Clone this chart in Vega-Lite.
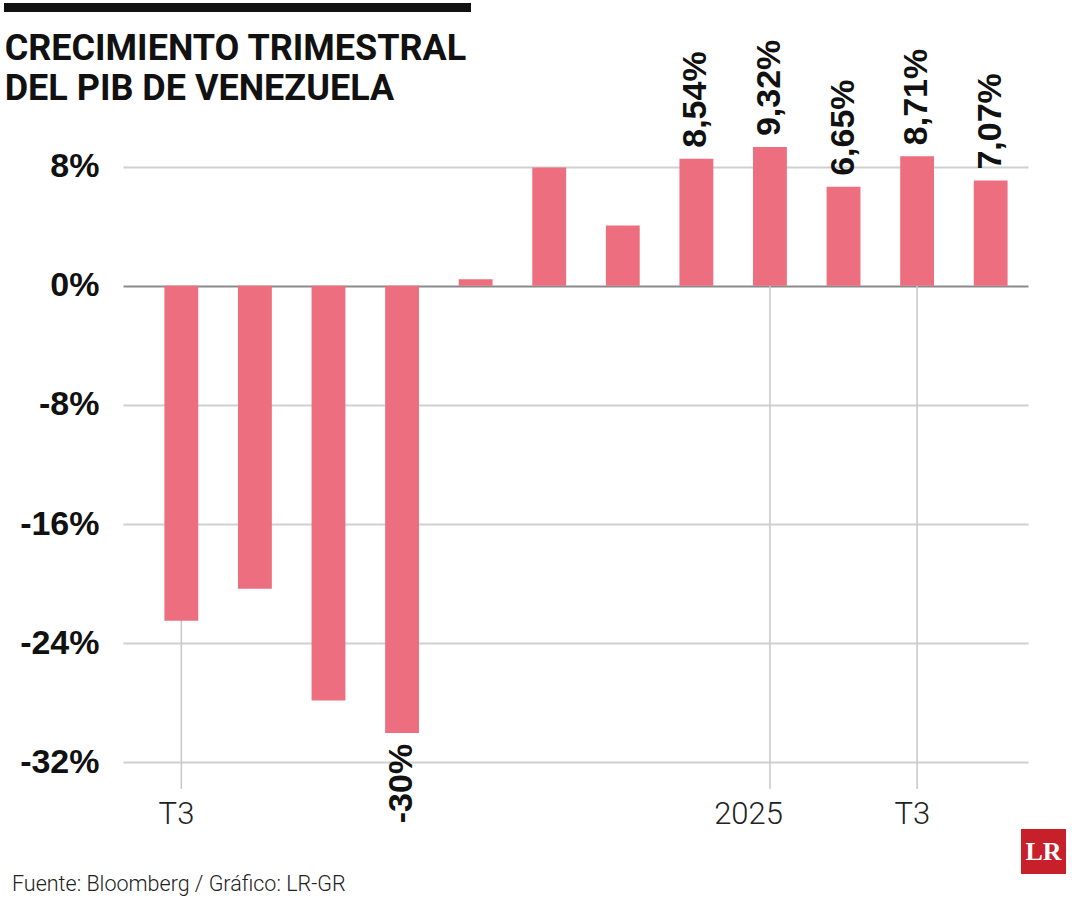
{
  "$schema": "https://vega.github.io/schema/vega-lite/v6.json",
  "background": "white",
  "padding": {"left": 2, "top": 3, "right": 0, "bottom": 0},
  "config": {"view": {"stroke": null}},
  "columns": 2,
  "align": {"row": "each", "column": "none"},
  "spacing": {"row": -3, "column": 0},
  "datasets": {
    "pib": [
      {"periodo": "2022 T3", "crecimiento": -22.5, "etiqueta": ""},
      {"periodo": "2022 T4", "crecimiento": -20.35, "etiqueta": ""},
      {"periodo": "2023 T1", "crecimiento": -27.85, "etiqueta": ""},
      {"periodo": "2023 T2", "crecimiento": -30.03, "etiqueta": "-30%"},
      {"periodo": "2023 T3", "crecimiento": 0.45, "etiqueta": ""},
      {"periodo": "2023 T4", "crecimiento": 7.95, "etiqueta": ""},
      {"periodo": "2024 T1", "crecimiento": 4.05, "etiqueta": ""},
      {"periodo": "2024 T2", "crecimiento": 8.54, "etiqueta": "8,54%"},
      {"periodo": "2025 T1", "crecimiento": 9.32, "etiqueta": "9,32%"},
      {"periodo": "2025 T2", "crecimiento": 6.65, "etiqueta": "6,65%"},
      {"periodo": "2025 T3", "crecimiento": 8.71, "etiqueta": "8,71%"},
      {"periodo": "2025 T4", "crecimiento": 7.07, "etiqueta": "7,07%"}
    ],
    "marcas": [
      {"periodo": "2022 T3"},
      {"periodo": "2025 T1"},
      {"periodo": "2025 T3"}
    ],
    "vacio": []
  },
  "concat": [
    {"width": 1, "height": 1, "data": {"name": "vacio"}, "mark": "text", "encoding": {"text": {"field": "t"}}},
    {
      "columns": 2,
      "align": {"row": "each", "column": "none"},
      "spacing": {"row": 19, "column": 0},
      "concat": [
        {"width": 1, "height": 1, "data": {"name": "vacio"}, "mark": "text", "encoding": {"text": {"field": "t"}}},
        {
          "width": 467,
          "height": 9,
          "view": {"fill": "#111111", "stroke": null},
          "data": {"name": "vacio"},
          "mark": {"type": "text"},
          "encoding": {"text": {"field": "t"}}
        },
        {"width": 1, "height": 1, "data": {"name": "vacio"}, "mark": "text", "encoding": {"text": {"field": "t"}}},
        {
          "width": 905,
          "height": 652,
          "title": {
            "text": ["CRECIMIENTO TRIMESTRAL", "DEL PIB DE VENEZUELA"],
            "anchor": "start",
            "frame": "bounds",
            "font": "Roboto",
            "fontWeight": "bold",
            "fontSize": 36,
            "lineHeight": 39.5,
            "color": "#111111",
            "dx": -15,
            "offset": -68
          },
          "layer": [
            {
              "data": {"name": "marcas"},
              "mark": {"type": "rule", "color": "#c8c8c8", "strokeWidth": 1.5},
              "encoding": {
                "x": {"field": "periodo", "type": "nominal"},
                "y": {"datum": 0, "type": "quantitative"},
                "y2": {"datum": -33.8}
              }
            },
            {
              "data": {"name": "pib"},
              "mark": {"type": "bar", "color": "#ED6E7E"},
              "encoding": {
                "x": {
                  "field": "periodo",
                  "type": "nominal",
                  "scale": {"paddingInner": 0.54, "paddingOuter": 0.42, "align": 0.67},
                  "axis": {
                    "values": ["2022 T3", "2025 T1", "2025 T3"],
                    "labelExpr": "datum.value == '2025 T1' ? '2025' : 'T3'",
                    "labelOffset": 13,
                    "labelAngle": 0,
                    "labelFont": "Roboto",
                    "labelFontWeight": 300,
                    "labelFontSize": 31,
                    "labelColor": "#222222",
                    "labelPadding": 25,
                    "ticks": false,
                    "tickSize": 0,
                    "domain": false,
                    "grid": false,
                    "title": null
                  }
                },
                "y": {
                  "field": "crecimiento",
                  "type": "quantitative",
                  "scale": {"domain": [-33.8, 10], "nice": false, "zero": false},
                  "axis": {
                    "values": [-32, -24, -16, -8, 0, 8],
                    "labelExpr": "datum.value + '%'",
                    "labelFont": "Liberation Sans",
                    "labelFontWeight": "bold",
                    "labelFontSize": 34,
                    "labelColor": "#111111",
                    "labelPadding": 24,
                    "ticks": false,
                    "tickSize": 0,
                    "domain": false,
                    "grid": true,
                    "gridColor": {"condition": {"test": "datum.value === 0", "value": "#8a8a8a"}, "value": "#d0d0d0"},
                    "gridWidth": 2,
                    "title": null
                  }
                }
              }
            },
            {
              "data": {"name": "pib"},
              "transform": [{"filter": "datum.etiqueta != '' && datum.crecimiento > 0"}],
              "mark": {"type": "text", "angle": -90, "align": "left", "baseline": "middle", "dx": 11, "font": "Liberation Sans", "fontWeight": "bold", "fontSize": 34, "color": "#111111"},
              "encoding": {
                "x": {"field": "periodo", "type": "nominal"},
                "y": {"field": "crecimiento", "type": "quantitative"},
                "text": {"field": "etiqueta"}
              }
            },
            {
              "data": {"name": "pib"},
              "transform": [{"filter": "datum.etiqueta != '' && datum.crecimiento < 0"}],
              "mark": {"type": "text", "angle": -90, "align": "right", "baseline": "middle", "dx": -11, "font": "Liberation Sans", "fontWeight": "bold", "fontSize": 34, "color": "#111111"},
              "encoding": {
                "x": {"field": "periodo", "type": "nominal"},
                "y": {"field": "crecimiento", "type": "quantitative"},
                "text": {"field": "etiqueta"}
              }
            }
          ]
        }
      ]
    },
    {"width": 1, "height": 1, "data": {"name": "vacio"}, "mark": "text", "encoding": {"text": {"field": "t"}}},
    {
      "spacing": 0,
      "hconcat": [
        {
          "width": 1018,
          "height": 45,
          "title": {
            "text": "Fuente: Bloomberg / Gráfico: LR-GR",
            "orient": "bottom",
            "anchor": "start",
            "frame": "group",
            "font": "Roboto",
            "fontWeight": 300,
            "fontSize": 21.5,
            "color": "#222222",
            "dx": 9,
            "offset": 0
          },
          "data": {"name": "vacio"},
          "mark": {"type": "text"},
          "encoding": {"text": {"field": "t"}}
        },
        {
          "width": 45,
          "height": 45,
          "view": {"fill": "#C8202A", "stroke": null},
          "data": {"values": [{"marca": "LR"}]},
          "mark": {"type": "text", "font": "Liberation Serif", "fontWeight": "bold", "fontSize": 26, "color": "white", "align": "center", "baseline": "middle"},
          "encoding": {"text": {"field": "marca"}}
        }
      ]
    }
  ]
}
